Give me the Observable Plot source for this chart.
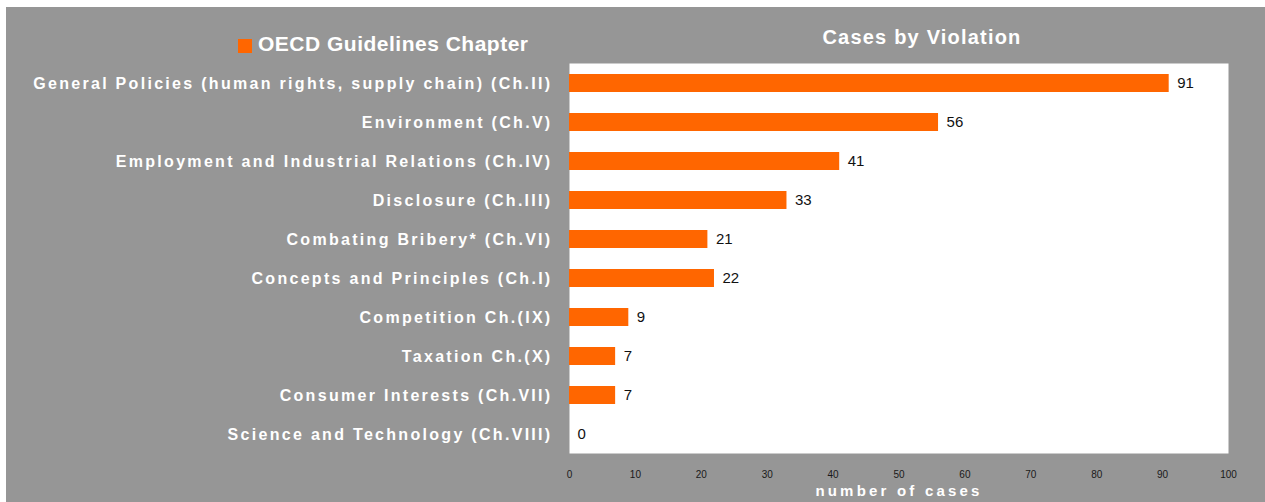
<!DOCTYPE html>
<html>
<head>
<meta charset="utf-8">
<script src="https://cdn.jsdelivr.net/npm/d3@7"></script>
<script src="https://cdn.jsdelivr.net/npm/@observablehq/plot@0.6"></script>
<style>
  html, body { margin: 0; padding: 0; background: #ffffff; }
  body { width: 1265px; height: 502px; position: relative; overflow: hidden;
         font-family: "Liberation Sans", Arial, Helvetica, sans-serif; }
  #chart { position: absolute; left: 6px; top: 7px; width: 1259px; height: 495px; background: #969696; }
  #legend { position: absolute; left: 232px; top: 26px; height: 21px; line-height: 21px;
            font-size: 21px; font-weight: bold; color: #ffffff; white-space: nowrap; }
  #legend .sw { position: absolute; left: 0; top: 6px; width: 14px; height: 14px; background: #FF6600; }
  #legend .tx { position: absolute; left: 20px; top: 0; letter-spacing: 0.5px; }
  #title { position: absolute; left: 716px; width: 400px; text-align: center; top: 20px;
           height: 20px; line-height: 20px; font-size: 20px; font-weight: bold; color: #ffffff;
           letter-spacing: 1.2px; white-space: nowrap; }
  #plot { position: absolute; left: 0; top: 40px; }
  #plot svg { font-family: "Liberation Sans", Arial, Helvetica, sans-serif; }
  g[aria-label="y-axis tick label"] { fill: #ffffff; font-weight: bold; font-size: 16px; letter-spacing: 2.3px; }
  g[aria-label="x-axis tick label"] { fill: #1a1a1a; font-size: 10px; }
</style>
</head>
<body>
<div id="chart">
  <div id="legend"><span class="sw"></span><span class="tx">OECD Guidelines Chapter</span></div>
  <div id="title">Cases by Violation</div>
  <div id="plot"></div>
</div>
<script>
const categories = [
  "General Policies (human rights, supply chain) (Ch.II)",
  "Environment (Ch.V)",
  "Employment and Industrial Relations (Ch.IV)",
  "Disclosure (Ch.III)",
  "Combating Bribery* (Ch.VI)",
  "Concepts and Principles (Ch.I)",
  "Competition Ch.(IX)",
  "Taxation Ch.(X)",
  "Consumer Interests (Ch.VII)",
  "Science and Technology (Ch.VIII)"
];
const cases = [91, 56, 41, 33, 21, 22, 9, 7, 7, 0];
const xTicks = [0, 10, 20, 30, 40, 50, 60, 70, 80, 90, 100];
const xTitle = "number of cases";

const data = categories.map((c, i) => ({category: c, value: cases[i]}));

const chart = Plot.plot({
  width: 1259,
  height: 455,
  marginTop: 16,
  marginBottom: 49,
  marginLeft: 563,
  marginRight: 37,
  style: {background: "transparent", fontFamily: "Liberation Sans, Arial, sans-serif", overflow: "visible"},
  x: {domain: [0, 100], label: null},
  y: {domain: categories, paddingInner: 0.55, paddingOuter: 0.275, label: null},
  marks: [
    Plot.frame({fill: "#ffffff", stroke: null}),
    Plot.barX(data, {x: "value", y: "category", fill: "#FF6600"}),
    Plot.text(data, {x: "value", y: "category", text: d => String(d.value), dx: 8,
      textAnchor: "start", fontSize: 15, fill: "#111111"}),
    Plot.axisY({tickSize: 0, tickPadding: 17, fontSize: 16, fontWeight: "bold", fill: "#ffffff"}),
    Plot.axisX({ticks: xTicks, tickSize: 0, tickPadding: 17, fontSize: 10, fill: "#1a1a1a", label: null}),
    Plot.text([xTitle], {frameAnchor: "bottom", dy: 42, lineAnchor: "bottom", text: d => d, fill: "#ffffff",
      fontWeight: "bold", fontSize: 15})
  ]
});
document.getElementById("plot").appendChild(chart);
d3.select(chart).selectAll("text").filter(function() { return this.textContent === xTitle; })
  .style("letter-spacing", "3.2px");
</script>
</body>
</html>
